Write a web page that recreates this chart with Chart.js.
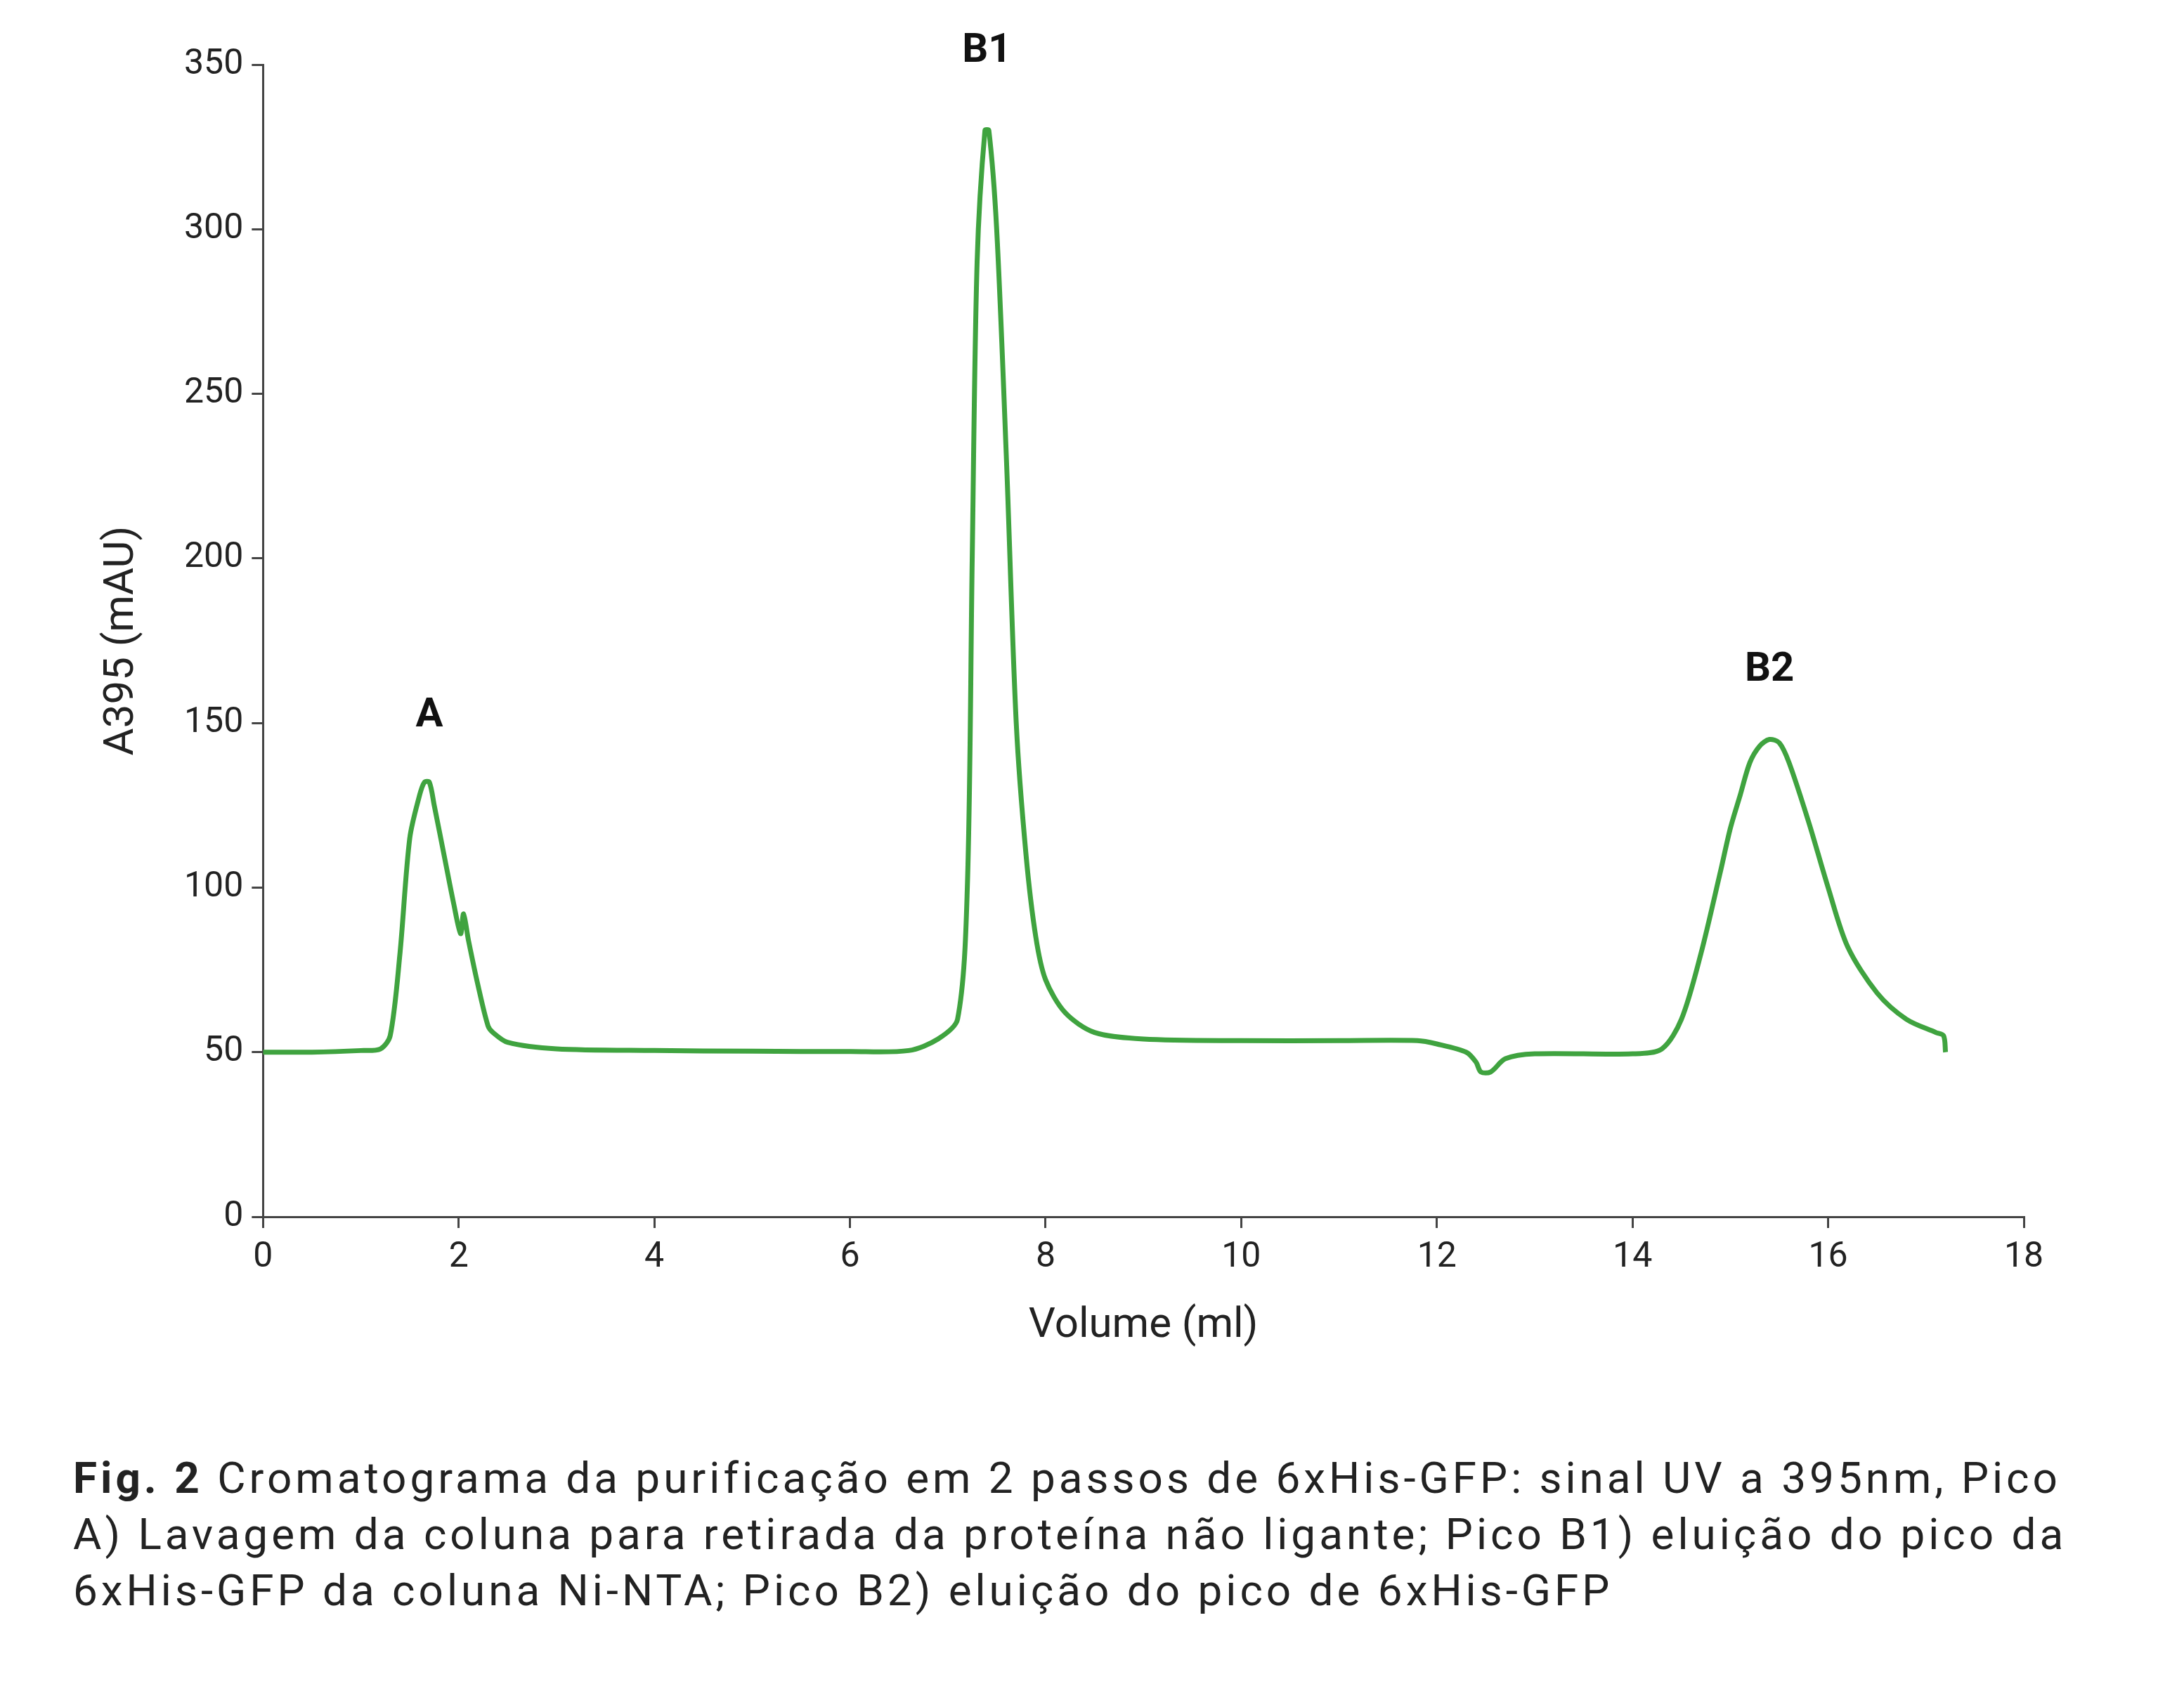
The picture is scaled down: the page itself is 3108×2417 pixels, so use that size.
<!DOCTYPE html>
<html><head><meta charset="utf-8">
<script src="https://cdn.jsdelivr.net/npm/chart.js@4"></script>
<style>
body{margin:0;background:#fff;width:3108px;height:2417px;overflow:hidden;font-family:Roboto,sans-serif}
#wrap{position:absolute;left:0;top:0;width:3108px;height:1928px}
#cap{position:absolute;left:104px;top:2064px;width:3000px;font-size:62px;line-height:80px;color:#222;letter-spacing:5px;white-space:nowrap}
</style></head><body>
<div id="wrap"><canvas id="c"></canvas></div>
<div id="cap"><b>Fig. 2</b> Cromatograma da purificação em 2 passos de 6xHis-GFP: sinal UV a 395nm, Pico<br>A) Lavagem da coluna para retirada da proteína não ligante; Pico B1) eluição do pico da<br>6xHis-GFP da coluna Ni-NTA; Pico B2) eluição do pico de 6xHis-GFP</div>
<script>
const volume=[0,0.5,1.0,1.2,1.3,1.4,1.5,1.6,1.65,1.7,1.75,1.85,1.95,2.02,2.05,2.1,2.2,2.3,2.35,2.5,3,4,5,6,6.6,6.9,7.1,7.2,7.25,7.3,7.38,7.42,7.5,7.6,7.7,7.8,7.9,8.0,8.2,8.5,9,10,11,11.8,12,12.3,12.4,12.45,12.55,12.7,13,14,14.3,14.5,14.7,14.9,15.0,15.1,15.2,15.3,15.4,15.5,15.6,15.8,16,16.2,16.5,16.8,17.1,17.18,17.2];
const a395=[50,50,50.5,51,55,80,115,128,132,132,125,110,95,86,92,84,70,58,56,53,51,50.5,50.3,50.2,50.5,54,60,100,200,290,330,330,300,230,150,110,85,72,62,56,54,53.5,53.5,53.5,52.5,50,47,44,44,48,49.5,49.5,51,60,80,105,118,128,138,143,145,144,138,120,100,82,68,60,56,55,50];
const peakNames=['A','B1','B2'];
const peakX=[1.7,7.4,15.4];
const peakY=[152,354,166];
const xTicks=[0,2,4,6,8,10,12,14,16,18];
const yTicks=[0,50,100,150,200,250,300,350];
const labelPlugin={id:'lbl',afterDatasetsDraw(ch){const c=ch.ctx,x=ch.scales.x,y=ch.scales.y;c.save();c.font='bold 58px Roboto';c.fillStyle='#111';c.textAlign='center';c.textBaseline='middle';peakNames.forEach((n,i)=>c.fillText(n,x.getPixelForValue(peakX[i]),y.getPixelForValue(peakY[i])));c.restore();}};
new Chart(document.getElementById('c'),{type:'line',
data:{datasets:[{data:volume.map((v,i)=>({x:v,y:a395[i]})),borderColor:'#3fa33f',borderWidth:7,pointRadius:0,tension:0.3,fill:false}]},
options:{responsive:true,maintainAspectRatio:false,animation:false,
layout:{padding:{top:92,right:228,left:134,bottom:0}},
plugins:{legend:{display:false},tooltip:{enabled:false}},
scales:{
x:{type:'linear',min:0,max:18,afterBuildTicks:s=>{s.ticks=xTicks.map(v=>({value:v}));},
 border:{color:'#444',width:3},grid:{drawOnChartArea:false,tickLength:16,color:'#444',lineWidth:3},
 ticks:{font:{size:50,family:'Roboto'},color:'#222',padding:12,maxRotation:0},
 title:{display:true,text:'Volume (ml)',font:{size:60,family:'Roboto'},color:'#222',padding:{top:20}}},
y:{min:0,max:350,afterBuildTicks:s=>{s.ticks=yTicks.map(v=>({value:v}));},
 border:{color:'#444',width:3},grid:{drawOnChartArea:false,tickLength:16,color:'#444',lineWidth:3},
 ticks:{font:{size:50,family:'Roboto'},color:'#222',padding:12},
 title:{display:true,text:'A395 (mAU)',font:{size:60,family:'Roboto'},color:'#222',padding:{bottom:40}}}
}},plugins:[labelPlugin]});
</script></body></html>
